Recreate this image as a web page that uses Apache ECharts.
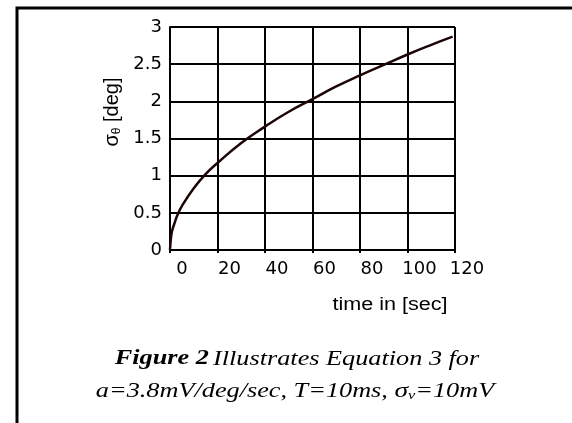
<!DOCTYPE html>
<html>
<head>
<meta charset="utf-8">
<script src="https://cdn.jsdelivr.net/npm/echarts@6/dist/echarts.min.js"></script>
<style>
html,body{margin:0;padding:0;background:#fff;}
#chart{width:572px;height:423px;}
</style>
</head>
<body>
<div id="chart"></div>
<script>
const timeSec = [0, 0.5, 1, 2, 3, 5, 10, 15, 20, 30, 40, 50, 60, 70, 80, 90, 100, 110, 119];
const sigmaDeg = [0, 0.19, 0.27, 0.37, 0.46, 0.59, 0.83, 1.02, 1.17, 1.44, 1.66, 1.86, 2.03, 2.20, 2.35, 2.49, 2.63, 2.76, 2.87];
const xAxisTitle = 'time in [sec]';
const yAxisTitle = '{a|σ}{s|θ}{a| [deg]}';
const captionLine1 = '{b|Figure 2} {i|Illustrates Equation 3 for}';
const captionLine2 = '{i|a=3.8mV/deg/sec, T=10ms, }{g|σ}{s|v}{i|=10mV}';

const chart = echarts.init(document.getElementById('chart'), null, {renderer: 'canvas'});
const labelFont = 'DejaVu Sans';
chart.setOption({
  animation: false,
  backgroundColor: '#ffffff',
  grid: {left: 170, right: 117, top: 27, bottom: 173, containLabel: false},
  xAxis: {
    type: 'value', min: 0, max: 120, interval: 20,
    axisLine: {show: true, onZero: false, lineStyle: {color: '#000', width: 2}},
    axisTick: {show: true, length: 3, lineStyle: {color: '#000', width: 2}},
    splitLine: {show: true, lineStyle: {color: '#000', width: 2}},
    axisLabel: {color: '#000', fontFamily: labelFont, fontSize: 18, margin: 10, padding: [0, 0, 0, 24], showMinLabel: true, showMaxLabel: true}
  },
  yAxis: {
    type: 'value', min: 0, max: 3, interval: 0.5,
    axisLine: {show: true, onZero: false, lineStyle: {color: '#000', width: 2}},
    axisTick: {show: false},
    splitLine: {show: true, lineStyle: {color: '#000', width: 2}},
    axisLabel: {color: '#000', fontFamily: labelFont, fontSize: 18, margin: 8, padding: [10, 0, 0, 0], showMinLabel: true, showMaxLabel: true}
  },
  series: [{
    type: 'line',
    data: timeSec.map((t, i) => [t, sigmaDeg[i]]),
    smooth: true,
    showSymbol: false,
    lineStyle: {color: '#1e0505', width: 2.5}
  }],
  graphic: [
    {type: 'polyline', shape: {points: [[17, 430], [17, 8], [580, 8]]}, style: {stroke: '#000', lineWidth: 3, fill: null}},
    {type: 'text', x: 390, y: 305, scaleX: 1.2,
      style: {text: xAxisTitle, x: 0, y: 0, align: 'center', verticalAlign: 'middle', font: '18px "Liberation Sans"', fill: '#000'}},
    {type: 'text', x: 112, y: 112, rotation: Math.PI / 2,
      style: {text: yAxisTitle, x: 0, y: 0, align: 'center', verticalAlign: 'middle', fill: '#000',
        rich: {a: {fontFamily: 'Liberation Sans', fontSize: 20, lineHeight: 23}, s: {fontFamily: 'Liberation Sans', fontSize: 12, padding: [10, 0, 0, 0]}}}},
    {type: 'text', x: 297, y: 359, scaleX: 1.25,
      style: {text: captionLine1, x: 0, y: 0, align: 'center', verticalAlign: 'middle', fill: '#000',
        rich: {b: {fontFamily: 'Liberation Serif', fontWeight: 'bold', fontStyle: 'italic', fontSize: 21},
               i: {fontFamily: 'Liberation Serif', fontStyle: 'italic', fontSize: 21}}}},
    {type: 'text', x: 295, y: 391, scaleX: 1.25,
      style: {text: captionLine2, x: 0, y: 0, align: 'center', verticalAlign: 'middle', fill: '#000',
        rich: {i: {fontFamily: 'Liberation Serif', fontStyle: 'italic', fontSize: 21},
               g: {fontFamily: 'Liberation Serif', fontStyle: 'italic', fontSize: 22},
               s: {fontFamily: 'Liberation Serif', fontStyle: 'italic', fontSize: 13, padding: [10, 0, 0, 0]}}}}
  ]
});
</script>
</body>
</html>
